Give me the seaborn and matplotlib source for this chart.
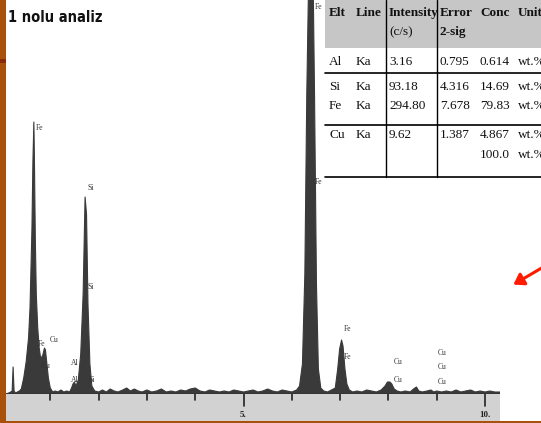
import matplotlib as mpl
mpl.use('Agg')
import matplotlib.pyplot as plt
import seaborn as sns
from matplotlib.patches import Rectangle

# spectrum: energy (keV) and counts (arbitrary, Fe Ka clipped)
energy = [0.08, 0.14, 0.18, 0.21, 0.23, 0.25, 0.28, 0.32, 0.36, 0.40, 0.45, 0.50,
          0.55, 0.58, 0.60, 0.62, 0.64, 0.66, 0.67, 0.69, 0.71, 0.74, 0.77, 0.80,
          0.84, 0.88, 0.90, 0.93, 0.96, 1.00, 1.05, 1.10, 1.16, 1.22, 1.28, 1.34,
          1.40, 1.44, 1.47, 1.50, 1.53, 1.58, 1.63, 1.68, 1.72, 1.75, 1.78, 1.82,
          1.86, 1.92, 2.00, 2.08, 2.16, 2.24, 2.32, 2.40, 2.50, 2.58, 2.66, 2.74,
          2.82, 2.90, 3.00, 3.10, 3.20, 3.30, 3.40, 3.50, 3.60, 3.70, 3.80, 3.90,
          4.00, 4.10, 4.20, 4.30, 4.40, 4.50, 4.60, 4.70, 4.80, 4.90, 5.00, 5.10,
          5.20, 5.30, 5.40, 5.50, 5.60, 5.70, 5.80, 5.90, 6.00, 6.10, 6.16, 6.22,
          6.27, 6.31, 6.35, 6.38, 6.41, 6.44, 6.47, 6.51, 6.55, 6.60, 6.66, 6.74,
          6.82, 6.90, 6.95, 6.99, 7.03, 7.06, 7.10, 7.14, 7.19, 7.26, 7.35, 7.45,
          7.55, 7.65, 7.75, 7.85, 7.93, 7.98, 8.03, 8.07, 8.12, 8.18, 8.26, 8.35,
          8.45, 8.52, 8.58, 8.63, 8.70, 8.80, 8.88, 8.94, 9.00, 9.10, 9.20, 9.30,
          9.40, 9.50, 9.60, 9.70, 9.80, 9.90, 10.00, 10.10, 10.20, 10.31]
counts = [0, 1, 2, 3, 27, 3, 1, 2, 3, 5, 16, 32,
          56, 86, 124, 165, 232, 272, 240, 155, 100, 66, 46, 36,
          38, 46, 44, 30, 16, 6, 2, 3, 2, 4, 2, 3,
          2, 6, 10, 12, 8, 14, 40, 100, 197, 180, 90, 30,
          8, 3, 2, 4, 2, 5, 3, 2, 4, 6, 3, 5,
          3, 2, 4, 2, 3, 5, 2, 3, 2, 4, 3, 5,
          6, 3, 2, 4, 3, 2, 3, 2, 4, 3, 2, 3,
          4, 2, 3, 5, 3, 2, 4, 3, 2, 4, 8, 30,
          120, 300, 420, 430, 430, 420, 300, 110, 25, 6, 3, 2,
          4, 6, 25, 45, 54, 48, 25, 10, 4, 2, 3, 2,
          4, 3, 2, 4, 8, 12, 12, 10, 5, 3, 2, 3,
          2, 5, 7, 3, 2, 3, 4, 2, 3, 2, 3, 2,
          4, 2, 3, 4, 2, 3, 2, 3, 2, 2]

# peak labels on the spectrum: (energy, count height, text)
peak_labels = [(0.70, 262, 'Fe'), (0.75, 46, 'Fe'), (0.98, 50, 'Cu'), (0.82, 24, 'Cu'),
               (1.76, 202, 'Si'), (1.76, 103, 'Si'), (1.42, 27, 'Al'), (1.42, 10, 'Al'),
               (1.80, 10, 'Si'), (6.48, 383, 'Fe'), (6.48, 208, 'Fe'),
               (7.08, 61, 'Fe'), (7.08, 33, 'Fe'), (8.12, 28, 'Cu'), (8.12, 10, 'Cu'),
               (9.02, 37, 'Cu'), (9.02, 23, 'Cu'), (9.02, 8, 'Cu')]

tick_keV = [1, 2, 3, 4, 5, 6, 7, 8, 9, 10]
tick_text = {5: '5.', 10: '10.'}

# quantification table
tab_elt = ['Al', 'Si', 'Fe', 'Cu']
tab_line = ['Ka', 'Ka', 'Ka', 'Ka']
tab_intensity = ['3.16', '93.18', '294.80', '9.62']
tab_error = ['0.795', '4.316', '7.678', '1.387']
tab_conc = ['0.614', '14.69', '79.83', '4.867']
total_conc = '100.0'

W, H = 541, 423
sns.set_style('white')
fig = plt.figure(figsize=(W / 100, H / 100), dpi=100, facecolor='#a9510a')


def fx(px):
    return px / W


def fy(py):
    return 1 - py / H


# white slide panel and decorative stripe
fig.patches.append(Rectangle((fx(6), fy(421)), fx(535), 421 / H, transform=fig.transFigure,
                             facecolor='white', edgecolor='none', zorder=-10))
fig.patches.append(Rectangle((0, fy(63)), fx(6), 4 / H, transform=fig.transFigure,
                             facecolor='#8a2a0c', edgecolor='none', zorder=-10))

# grey axis band under the spectrum
band = fig.add_axes([fx(6), fy(421), fx(494), 27 / H])
band.set_facecolor('#d2d2d2')
band.set_xlim(0.083, 10.31)
band.set_ylim(0, 27)
band.set_xticks([])
band.set_yticks([])
for s in band.spines.values():
    s.set_visible(False)
for t in tick_keV:
    ln = 12 if t in tick_text else 6
    band.plot([t, t], [27, 27 - ln], color='#222222', lw=1.2)
    if t in tick_text:
        band.text(t, 2, tick_text[t], ha='center', va='bottom', fontsize=6.5,
                  family='Liberation Serif', weight='bold', color='#222222')

# spectrum
ax = fig.add_axes([fx(6), fy(394), fx(494), 394 / H])
ax.patch.set_alpha(0)
sns.lineplot(x=energy, y=counts, ax=ax, color='#3a3a3a', lw=0.8)
ax.fill_between(energy, counts, color='#3a3a3a', lw=0)
ax.axhline(0.5, color='#333333', lw=1.2)
ax.set_xlim(0.083, 10.31)
ax.set_ylim(0, 394)
ax.set_xticks([])
ax.set_yticks([])
for s in ax.spines.values():
    s.set_visible(False)
for e, c, txt in peak_labels:
    ax.text(e, c, txt, fontsize=5.5, family='Liberation Serif', color='#333333',
            ha='left', va='bottom', clip_on=False)

fig.text(fx(8), fy(18), '1 nolu analiz', fontsize=10.5, weight='bold',
         family='DejaVu Sans', stretch='condensed', color='#111111',
         ha='left', va='center')

# table
fig.patches.append(Rectangle((fx(325), fy(178)), fx(216), 178 / H, transform=fig.transFigure,
                             facecolor='white', edgecolor='none', zorder=1))
fig.patches.append(Rectangle((fx(325), fy(48)), fx(216), 48 / H, transform=fig.transFigure,
                             facecolor='#c6c6c6', edgecolor='none', zorder=1))
for yy in (73, 125, 177):
    fig.add_artist(plt.Line2D([fx(325), 1], [fy(yy), fy(yy)], color='black', lw=1.2))
for xx in (386, 437):
    fig.add_artist(plt.Line2D([fx(xx), fx(xx)], [fy(0), fy(177)], color='black', lw=1))

col_x = [329, 356, 389, 440, 480, 518]
serif = dict(family='Liberation Serif', fontsize=9.5, color='#111111', ha='left', va='center')
hdr = dict(serif, weight='bold')
for x, txt in zip(col_x, ['Elt', 'Line', 'Intensity', 'Error', 'Conc', 'Units']):
    fig.text(fx(x), fy(13), txt, **hdr)
fig.text(fx(col_x[2]), fy(32), '(c/s)', **serif)
fig.text(fx(col_x[3]), fy(32), '2-sig', **hdr)
row_y = [62, 87, 106, 135]
for i, y in enumerate(row_y):
    vals = [tab_elt[i], tab_line[i], tab_intensity[i], tab_error[i], tab_conc[i], 'wt.%']
    for x, txt in zip(col_x, vals):
        fig.text(fx(x), fy(y), txt, **serif)
fig.text(fx(col_x[4]), fy(155), total_conc, **serif)
fig.text(fx(col_x[5]), fy(155), 'wt.%', **serif)

# red arrow
fig.add_artist(mpl.patches.FancyArrowPatch((fx(545), fy(266)), (fx(511), fy(286)),
                                           transform=fig.transFigure, color='#ff1a00',
                                           arrowstyle='-|>,head_length=6,head_width=4', lw=2.2))

fig.savefig('out.png', dpi=100, facecolor=fig.get_facecolor())
